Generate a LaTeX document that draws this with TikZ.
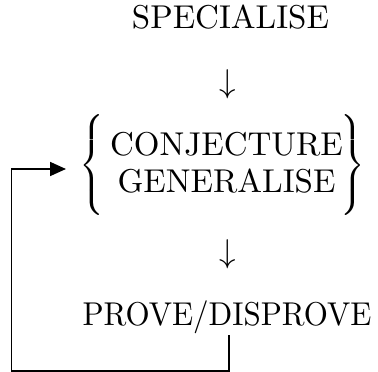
\documentclass[tikz,border=0pt]{standalone}
\usetikzlibrary{arrows.meta}
\tikzset{
  lbl/.style={inner sep=0pt, outer sep=0pt, anchor=base, font=\normalsize},
  brace/.style={inner sep=0pt, outer sep=0pt, anchor=center, font=\normalsize},
  loopline/.style={line width=1.8pt, -{Triangle[length=16pt,width=14pt]}}
}
\newcommand{\bigtxt}[1]{\scalebox{3.3}{#1}}
\newcommand{\tallbrace}[2]{\resizebox*{!}{100pt}{$\delimiterfactor=1000\delimitershortfall=0pt\left#1\vcenter{\hbox{\rule{0pt}{30.5pt}}}\right#2$}}
\begin{document}
\begin{tikzpicture}[x=1pt,y=-1pt]
\useasboundingbox (0,0) rectangle (378,372);
\node[lbl] (spec) at (230.5,28) {\bigtxt{SPECIALISE}};
\node[lbl] (arr1) at (228,92) {\bigtxt{$\downarrow$}};
\node[lbl] (conj) at (226.5,155) {\bigtxt{CONJECTURE}};
\node[lbl] (gen) at (226.5,192) {\bigtxt{GENERALISE}};
\node[brace] (lbr) at (94,165) {\tallbrace{\{}{.}};
\node[brace] (rbr) at (351,165) {\tallbrace{.}{\}}};
\node[lbl] (arr2) at (228,262) {\bigtxt{$\downarrow$}};
\node[lbl] (prove) at (227,325) {\scalebox{3.1}[3.3]{PROVE/DISPROVE}};
\coordinate (start) at (229.3,335);
\coordinate (corner) at (11.5,371);
\coordinate (tip) at (66,169);
\draw[loopline] (start) |- (corner) |- (tip);
\end{tikzpicture}
\end{document}
